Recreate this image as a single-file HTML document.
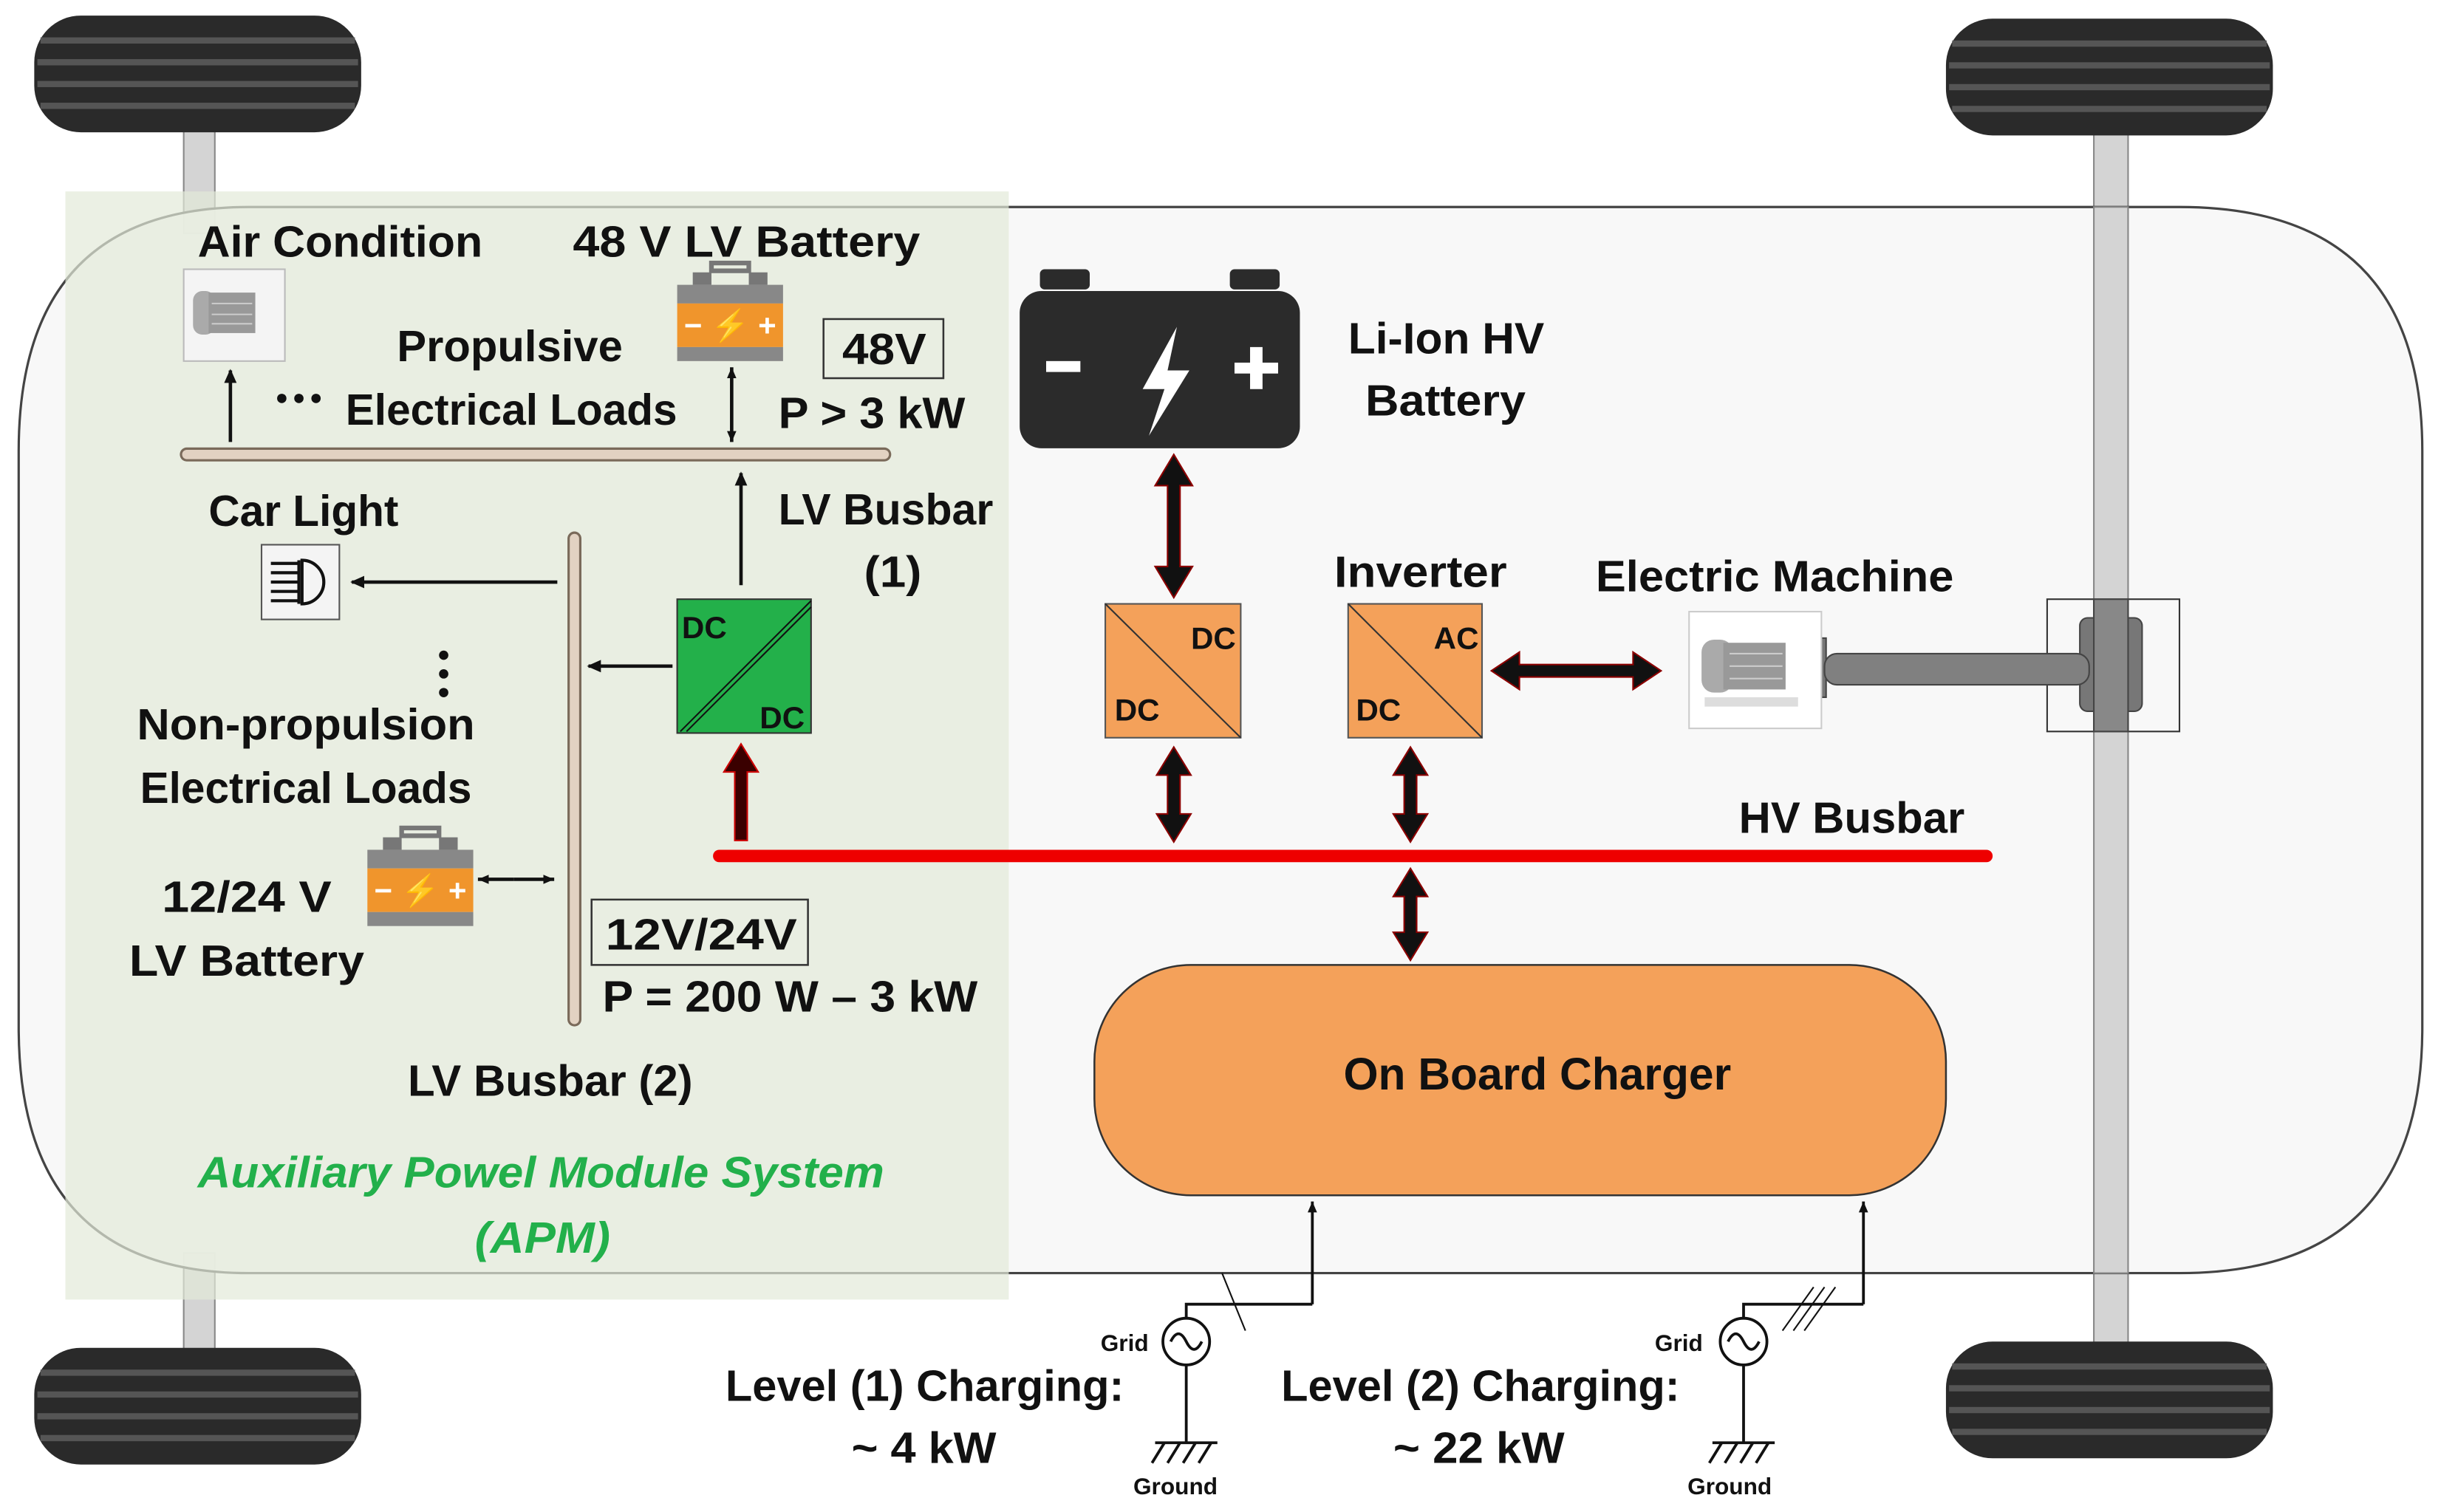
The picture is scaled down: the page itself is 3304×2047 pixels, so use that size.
<!DOCTYPE html>
<html><head><meta charset="utf-8"><style>
html,body{margin:0;padding:0;background:#fff}
svg{display:block}
text{font-family:"Liberation Sans Narrow","Liberation Sans",sans-serif;font-weight:bold;fill:#111}
</style></head><body>
<svg width="3304" height="2047" viewBox="0 0 1568 971.5" preserveAspectRatio="none" xmlns="http://www.w3.org/2000/svg">
<defs>
<marker id="ah" markerWidth="10" markerHeight="10" refX="8" refY="5" orient="auto" markerUnits="userSpaceOnUse"><path d="M0,1 L9,5 L0,9 Z" fill="#111"/></marker>
<marker id="as" markerWidth="8" markerHeight="8" refX="7" refY="4" orient="auto" markerUnits="userSpaceOnUse"><path d="M0,1 L7,4 L0,7 Z" fill="#111"/></marker>
<g id="tire">
<rect x="0" y="0" width="210" height="75" rx="30" fill="#2a2a2a"/>
<rect x="4" y="14" width="202" height="4" fill="#555"/>
<rect x="2" y="28" width="206" height="4" fill="#555"/>
<rect x="2" y="42" width="206" height="4" fill="#555"/>
<rect x="4" y="56" width="202" height="4" fill="#555"/>
</g>
<g id="batt">
<rect x="10" y="0" width="12" height="8" fill="#777"/><rect x="46" y="0" width="12" height="8" fill="#777"/>
<rect x="22" y="-6" width="24" height="5" fill="none" stroke="#777" stroke-width="3"/>
<rect x="0" y="8" width="68" height="12" fill="#888"/>
<rect x="0" y="20" width="68" height="28" fill="#f0952c"/>
<text x="34" y="41" text-anchor="middle" style="font-size:20px;fill:#fff">− ⚡ +</text>
<rect x="0" y="48" width="68" height="9" fill="#888"/>
</g>
<g id="motor">
<rect x="0" y="0" width="85" height="75" fill="#fff" stroke="#ccc"/>
<rect x="8" y="18" width="20" height="34" rx="8" fill="#aaa"/>
<rect x="22" y="20" width="40" height="30" fill="#999"/>
<line x1="26" y1="27" x2="60" y2="27" stroke="#ccc"/><line x1="26" y1="35" x2="60" y2="35" stroke="#ccc"/><line x1="26" y1="43" x2="60" y2="43" stroke="#ccc"/>
<rect x="10" y="55" width="60" height="6" fill="#ddd"/>
</g>
</defs>

<!-- axles -->
<rect x="118" y="80" width="20" height="70" fill="#d4d4d4" stroke="#888"/>
<rect x="118" y="805" width="20" height="65" fill="#d4d4d4" stroke="#888"/>
<rect x="1345" y="80" width="22" height="785" fill="#d4d4d4" stroke="#888"/>

<!-- car body -->
<path d="M160,133 L1400,133 Q1556,133 1556,290 L1556,660 Q1556,818 1400,818 L160,818 Q12,818 12,660 L12,290 Q12,133 160,133 Z" fill="#f7f7f7" fill-opacity="0.92" stroke="#444" stroke-width="1.5"/>
<rect x="1345" y="133" width="22" height="685" fill="#d4d4d4" stroke="#888"/>

<!-- APM region -->
<rect x="42" y="123" width="606" height="712" fill="#e3ead9" fill-opacity="0.7"/>

<!-- wheels -->
<use href="#tire" x="22" y="10"/>
<use href="#tire" x="22" y="866"/>
<use href="#tire" x="1250" y="12"/>
<use href="#tire" x="1250" y="862"/>

<!-- hub + shaft -->
<rect x="1315" y="385" width="85" height="85" fill="none" stroke="#333" stroke-width="1"/>
<rect x="1336" y="397" width="40" height="60" rx="5" fill="#777" stroke="#444"/>
<rect x="1345" y="385" width="22" height="85" fill="#888" stroke="#444"/>
<rect x="1165" y="410" width="8" height="38" fill="#777" stroke="#444"/>
<rect x="1172" y="420" width="170" height="20" rx="8" fill="#808080" stroke="#444"/>
<use href="#motor" x="1085" y="393"/>

<!-- HV battery -->
<rect x="668" y="173" width="32" height="13" rx="3" fill="#2b2b2b"/>
<rect x="790" y="173" width="32" height="13" rx="3" fill="#2b2b2b"/>
<rect x="655" y="187" width="180" height="101" rx="14" fill="#2b2b2b"/>
<rect x="672" y="232" width="22" height="7" fill="#fff"/>
<path d="M756,210 L734,250 L748,250 L738,280 L764,238 L750,238 Z" fill="#fff"/>
<rect x="793" y="233" width="28" height="7" fill="#fff"/><rect x="803" y="223" width="8" height="27" fill="#fff"/>

<!-- converters -->
<rect x="710" y="388" width="87" height="86" fill="#f4a15a" stroke="#555"/>
<line x1="710" y1="388" x2="797" y2="474" stroke="#333"/>
<text x="765" y="417" style="font-size:20px">DC</text><text x="716" y="463" style="font-size:20px">DC</text>
<rect x="866" y="388" width="86" height="86" fill="#f4a15a" stroke="#555"/>
<line x1="866" y1="388" x2="952" y2="474" stroke="#333"/>
<text x="921" y="417" style="font-size:20px">AC</text><text x="871" y="463" style="font-size:20px">DC</text>
<rect x="435" y="385" width="86" height="86" fill="#23b04a" stroke="#333"/>
<line x1="437" y1="470" x2="521" y2="386" stroke="#111"/><line x1="441" y1="470" x2="521" y2="390" stroke="#111"/>
<text x="438" y="410" style="font-size:20px">DC</text><text x="488" y="468" style="font-size:20px">DC</text>

<!-- HV busbar -->
<line x1="462" y1="550" x2="1276" y2="550" stroke="#e00" stroke-width="8" stroke-linecap="round"/>

<!-- thick arrows -->
<g fill="#111" stroke="#8b0000" stroke-width="1">
<path d="M754,292 L766,312 L758,312 L758,364 L766,364 L754,384 L742,364 L750,364 L750,312 L742,312 Z"/>
<path d="M754,480 L765,498 L758,498 L758,523 L765,523 L754,541 L743,523 L750,523 L750,498 L743,498 Z"/>
<path d="M906,480 L917,498 L910,498 L910,523 L917,523 L906,541 L895,523 L902,523 L902,498 L895,498 Z"/>
<path d="M906,558 L917,576 L910,576 L910,599 L917,599 L906,617 L895,599 L902,599 L902,576 L895,576 Z"/>
<path d="M958,431 L976,419 L976,427 L1049,427 L1049,419 L1067,431 L1049,443 L1049,435 L976,435 L976,443 Z"/>
<path d="M476,478 L487,496 L480,496 L480,540 L472,540 L472,496 L465,496 Z" fill="#3a0000" stroke="#c00"/>
</g>

<!-- OBC -->
<rect x="703" y="620" width="547" height="148" rx="62" fill="#f4a15a" stroke="#333" stroke-width="1.2"/>
<text x="863" y="700" textLength="249" lengthAdjust="spacingAndGlyphs" style="font-size:29px">On Board Charger</text>

<!-- LV busbars -->
<line x1="120" y1="292" x2="568" y2="292" stroke="#7a6a5a" stroke-width="9" stroke-linecap="round"/>
<line x1="120" y1="292" x2="568" y2="292" stroke="#e2d2c2" stroke-width="6" stroke-linecap="round"/>
<line x1="369" y1="346" x2="369" y2="655" stroke="#7a6a5a" stroke-width="9" stroke-linecap="round"/>
<line x1="369" y1="346" x2="369" y2="655" stroke="#e2d2c2" stroke-width="6" stroke-linecap="round"/>

<!-- thin arrows -->
<g stroke="#111" stroke-width="2.2" fill="none">
<line x1="148" y1="284" x2="148" y2="238" marker-end="url(#ah)"/>
<line x1="470" y1="261" x2="470" y2="284" marker-end="url(#as)"/>
<line x1="470" y1="261" x2="470" y2="236" marker-end="url(#as)"/>
<line x1="476" y1="376" x2="476" y2="304" marker-end="url(#ah)"/>
<line x1="358" y1="374" x2="226" y2="374" marker-end="url(#ah)"/>
<line x1="432" y1="428" x2="378" y2="428" marker-end="url(#ah)"/>
<line x1="330" y1="565" x2="307" y2="565" marker-end="url(#as)"/>
<line x1="330" y1="565" x2="356" y2="565" marker-end="url(#as)"/>
</g>

<!-- icons left -->
<rect x="118" y="173" width="65" height="59" fill="#f4f4f4" stroke="#bbb"/>
<rect x="124" y="187" width="14" height="28" rx="6" fill="#aaa"/><rect x="134" y="188" width="30" height="26" fill="#999"/>
<line x1="136" y1="195" x2="162" y2="195" stroke="#ccc"/><line x1="136" y1="202" x2="162" y2="202" stroke="#ccc"/><line x1="136" y1="208" x2="162" y2="208" stroke="#ccc"/>
<rect x="168" y="350" width="50" height="48" fill="#f4f4f4" stroke="#555"/>
<path d="M194,360 A14,14 0 1 1 194,388 Z" fill="none" stroke="#111" stroke-width="2"/>
<g stroke="#111" stroke-width="2"><line x1="174" y1="362" x2="192" y2="362"/><line x1="174" y1="368" x2="192" y2="368"/><line x1="174" y1="374" x2="192" y2="374"/><line x1="174" y1="380" x2="192" y2="380"/><line x1="174" y1="386" x2="192" y2="386"/><line x1="192" y1="360" x2="192" y2="388"/></g>
<use href="#batt" x="435" y="175"/>
<use href="#batt" x="236" y="538"/>

<!-- dots -->
<g fill="#111"><circle cx="181" cy="256" r="3"/><circle cx="192" cy="256" r="3"/><circle cx="203" cy="256" r="3"/>
<circle cx="285" cy="421" r="3"/><circle cx="285" cy="433" r="3"/><circle cx="285" cy="445" r="3"/></g>

<!-- boxes -->
<rect x="529" y="205" width="77" height="38" fill="none" stroke="#333" stroke-width="1.2"/>
<rect x="380" y="578" width="139" height="42" fill="none" stroke="#333" stroke-width="1.2"/>

<!-- labels -->
<g style="font-size:28px">
<text x="127" y="165" textLength="183" lengthAdjust="spacingAndGlyphs">Air Condition</text>
<text x="368" y="165" textLength="223" lengthAdjust="spacingAndGlyphs">48 V  LV Battery</text>
<text x="255" y="232" textLength="145" lengthAdjust="spacingAndGlyphs">Propulsive</text>
<text x="222" y="273" textLength="213" lengthAdjust="spacingAndGlyphs">Electrical Loads</text>
<text x="541" y="234" textLength="54" lengthAdjust="spacingAndGlyphs">48V</text>
<text x="500" y="275" textLength="120" lengthAdjust="spacingAndGlyphs">P &gt; 3 kW</text>
<text x="500" y="337" textLength="138" lengthAdjust="spacingAndGlyphs">LV Busbar</text>
<text x="555" y="377" textLength="37" lengthAdjust="spacingAndGlyphs">(1)</text>
<text x="134" y="338" textLength="122" lengthAdjust="spacingAndGlyphs">Car Light</text>
<text x="88" y="475" textLength="217" lengthAdjust="spacingAndGlyphs">Non-propulsion</text>
<text x="90" y="516" textLength="213" lengthAdjust="spacingAndGlyphs">Electrical Loads</text>
<text x="104" y="586" textLength="109" lengthAdjust="spacingAndGlyphs">12/24 V</text>
<text x="83" y="627" textLength="151" lengthAdjust="spacingAndGlyphs">LV  Battery</text>
<text x="389" y="610" textLength="123" lengthAdjust="spacingAndGlyphs">12V/24V</text>
<text x="387" y="650" textLength="241" lengthAdjust="spacingAndGlyphs">P = 200 W – 3 kW</text>
<text x="262" y="704" textLength="183" lengthAdjust="spacingAndGlyphs">LV Busbar (2)</text>
<text x="127" y="763" textLength="441" lengthAdjust="spacingAndGlyphs" style="fill:#22b04b;font-style:italic">Auxiliary Powel Module System</text>
<text x="305" y="805" textLength="87" lengthAdjust="spacingAndGlyphs" style="fill:#22b04b;font-style:italic">(APM)</text>
<text x="866" y="227" textLength="126" lengthAdjust="spacingAndGlyphs">Li-Ion HV</text>
<text x="877" y="267" textLength="103" lengthAdjust="spacingAndGlyphs">Battery</text>
<text x="857" y="377" textLength="111" lengthAdjust="spacingAndGlyphs">Inverter</text>
<text x="1025" y="380" textLength="230" lengthAdjust="spacingAndGlyphs">Electric Machine</text>
<text x="1117" y="535" textLength="145" lengthAdjust="spacingAndGlyphs">HV Busbar</text>
<text x="466" y="900" textLength="256" lengthAdjust="spacingAndGlyphs">Level (1) Charging:</text>
<text x="547" y="940" textLength="93" lengthAdjust="spacingAndGlyphs">~ 4 kW</text>
<text x="823" y="900" textLength="256" lengthAdjust="spacingAndGlyphs">Level (2) Charging:</text>
<text x="895" y="940" textLength="110" lengthAdjust="spacingAndGlyphs">~ 22 kW</text>
</g>

<!-- grid / ground -->
<g stroke="#111" stroke-width="1.8" fill="none">
<line x1="843" y1="838" x2="843" y2="772" marker-end="url(#as)"/>
<polyline points="762,847 762,838 843,838"/>
<circle cx="762" cy="862" r="15"/>
<path d="M752,862 Q757,852 762,862 Q767,872 772,862"/>
<line x1="762" y1="877" x2="762" y2="927"/>
<line x1="742" y1="927" x2="782" y2="927"/>
<line x1="748" y1="927" x2="740" y2="940"/><line x1="758" y1="927" x2="750" y2="940"/><line x1="768" y1="927" x2="760" y2="940"/><line x1="778" y1="927" x2="770" y2="940"/>
<line x1="785" y1="818" x2="800" y2="855" stroke-width="1"/>

<line x1="1197" y1="838" x2="1197" y2="772" marker-end="url(#as)"/>
<polyline points="1120,847 1120,838 1197,838"/>
<circle cx="1120" cy="862" r="15"/>
<path d="M1110,862 Q1115,852 1120,862 Q1125,872 1130,862"/>
<line x1="1120" y1="877" x2="1120" y2="927"/>
<line x1="1100" y1="927" x2="1140" y2="927"/>
<line x1="1106" y1="927" x2="1098" y2="940"/><line x1="1116" y1="927" x2="1108" y2="940"/><line x1="1126" y1="927" x2="1118" y2="940"/><line x1="1136" y1="927" x2="1128" y2="940"/>
<g stroke-width="1"><line x1="1145" y1="855" x2="1165" y2="827"/><line x1="1152" y1="855" x2="1172" y2="827"/><line x1="1159" y1="855" x2="1179" y2="827"/></g>
</g>
<g style="font-size:15px">
<text x="707" y="868">Grid</text><text x="728" y="960">Ground</text>
<text x="1063" y="868">Grid</text><text x="1084" y="960">Ground</text>
</g>
</svg>
</body></html>
